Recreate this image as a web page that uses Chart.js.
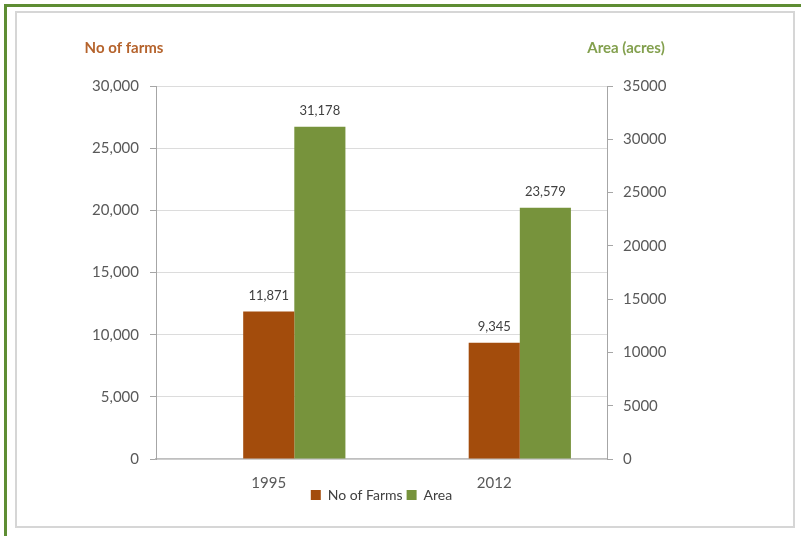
<!DOCTYPE html>
<html>
<head>
<meta charset="utf-8">
<script src="https://cdn.jsdelivr.net/npm/chart.js@4"></script>
<style>
  body { margin: 0; width: 801px; height: 536px; overflow: hidden; background: #fff; position: relative; }
  #frame { position: absolute; left: 4px; top: 4px; width: 820px; height: 560px;
           border-left: 3px solid #5e8d33; border-top: 3px solid #5e8d33; }
  #box { position: absolute; left: 15px; top: 11px; width: 776px; height: 513px; border: 2px solid #d6d6d6; }
  #wrap { position: absolute; left: 0; top: 0; width: 801px; height: 536px; }
</style>
</head>
<body>
<div id="frame"></div>
<div id="box"></div>
<div id="wrap"><canvas id="farmChart"></canvas></div>
<script>
// data
const years = ['1995', '2012'];
const farms = [11871, 9345];
const area = [31178, 23579];
const farmTicks = [0, 30000, 5000];   // min, max, step (left axis)
const areaTicks = [0, 35000, 5000];   // min, max, step (right axis)

const BROWN = '#a34c0c';
const GREEN = '#77933c';
const TICK_TXT = '#595959';
const AXIS = '#a6a6a6';

// value labels above each bar
const valueLabels = {
  id: 'valueLabels',
  afterDatasetsDraw(chart) {
    const ctx = chart.ctx;
    ctx.save();
    ctx.font = '13px Lato';
    ctx.fillStyle = '#404040';
    ctx.textAlign = 'center';
    ctx.textBaseline = 'bottom';
    chart.data.datasets.forEach((ds, i) => {
      if (!ds.label) return;
      chart.getDatasetMeta(i).data.forEach((bar, j) => {
        ctx.fillText(ds.data[j].toLocaleString('en-US'), bar.x, bar.y - 9);
      });
    });
    ctx.restore();
  }
};

// axis titles flat above the axes + year labels (drawn here so they can sit
// right next to the legend, like in the original)
const axisTitles = {
  id: 'axisTitles',
  afterDraw(chart) {
    const {left, right, top, bottom} = chart.chartArea;
    const ctx = chart.ctx;
    ctx.save();
    ctx.font = 'bold 15px Lato';
    ctx.textAlign = 'center';
    ctx.textBaseline = 'middle';
    ctx.fillStyle = '#b5632c';
    ctx.fillText('No of farms', left - 32, top - 38);
    ctx.fillStyle = '#83a04e';
    ctx.fillText('Area (acres)', right + 19, top - 38);

    ctx.font = '15px Lato';
    ctx.fillStyle = TICK_TXT;
    const xs = chart.scales.x;
    years.forEach((yr, i) => {
      ctx.fillText(yr, xs.getPixelForValue(i), bottom + 24);
    });
    ctx.restore();
  }
};

const data = {
  labels: years,
  datasets: [
    { label: '', data: years.map(() => null), yAxisID: 'y' }, // empty slot, pushes farms to the centre
    { label: 'No of Farms', data: farms, backgroundColor: BROWN, yAxisID: 'y' },
    { label: 'Area', data: area, backgroundColor: GREEN, yAxisID: 'y1' }
  ]
};

const config = {
  type: 'bar',
  data,
  options: {
    responsive: false,
    animation: false,
    devicePixelRatio: 1,
    layout: { padding: { top: 86, bottom: 24, left: 0, right: 0 } },
    datasets: { bar: { categoryPercentage: 0.68, barPercentage: 1 } },
    plugins: {
      legend: {
        position: 'bottom',
        fullSize: false,
        labels: {
          boxWidth: 10, boxHeight: 10, padding: 4,
          color: '#404040',
          font: { family: 'Lato', size: 14 },
          filter: item => item.text !== ''
        }
      },
      tooltip: { enabled: false }
    },
    scales: {
      x: {
        grid: { display: true, drawOnChartArea: false, drawTicks: false },
        border: { color: '#bfbfbf', width: 1.5 },
        ticks: { display: false },
        afterFit: s => { s.height = 25; }
      },
      y: {
        position: 'left',
        min: farmTicks[0], max: farmTicks[1],
        grid: { color: '#dcdcdc', tickColor: AXIS, tickLength: 6 },
        border: { color: AXIS },
        ticks: {
          stepSize: farmTicks[2], padding: 11, color: TICK_TXT,
          font: { family: 'Lato', size: 15 },
          callback: v => v.toLocaleString('en-US')
        },
        afterFit: s => { s.width = 156; }
      },
      y1: {
        position: 'right',
        min: areaTicks[0], max: areaTicks[1],
        grid: { drawOnChartArea: false, tickColor: AXIS, tickLength: 6 },
        border: { color: AXIS },
        ticks: {
          stepSize: areaTicks[2], padding: 10, color: TICK_TXT,
          font: { family: 'Lato', size: 15 },
          callback: v => String(v)
        },
        afterFit: s => { s.width = 194; }
      }
    }
  },
  plugins: [valueLabels, axisTitles]
};

const canvas = document.getElementById('farmChart');
canvas.width = 801;
canvas.height = 536;
const farmChart = new Chart(canvas, config);
</script>
</body>
</html>
